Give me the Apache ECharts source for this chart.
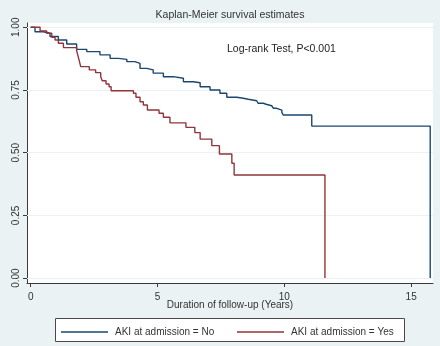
<!DOCTYPE html>
<html><head><meta charset="utf-8">
<script src="https://cdn.jsdelivr.net/npm/echarts@6/dist/echarts.min.js"></script>
<style>html,body{margin:0;padding:0;background:#eaf2f3}#c{width:440px;height:346px}</style>
</head><body><div id="c"></div>
<script>
// Kaplan-Meier step data (time in years, survival after the step)
const timeNo = [0, 0.17, 0.50, 0.76, 1.09, 1.42, 1.81, 2.21, 2.73, 3.13, 3.45, 3.79, 4.11, 4.31, 4.57, 4.83, 5.23, 5.62, 6.02, 6.41, 6.68, 7.07, 7.46, 7.73, 8.12, 8.38, 8.58, 8.91, 8.97, 9.17, 9.28, 9.50, 9.57, 9.70, 9.90, 9.96, 11.08, 15.75];
const survNo = [1.0, 0.982, 0.976, 0.963, 0.949, 0.933, 0.912, 0.903, 0.890, 0.876, 0.872, 0.863, 0.856, 0.836, 0.830, 0.817, 0.803, 0.797, 0.783, 0.779, 0.763, 0.750, 0.737, 0.721, 0.717, 0.713, 0.707, 0.703, 0.697, 0.693, 0.687, 0.683, 0.677, 0.670, 0.661, 0.650, 0.606, 0];
const timeYes = [0, 0.37, 0.63, 0.83, 0.96, 1.09, 1.29, 1.81, 1.88, 1.93, 1.97, 2.31, 2.56, 2.76, 2.82, 2.97, 3.09, 3.17, 4.05, 4.15, 4.31, 4.44, 4.60, 5.06, 5.23, 5.49, 6.12, 6.47, 6.68, 7.14, 7.44, 7.93, 8.02, 11.6];
const survYes = [1.0, 0.985, 0.976, 0.960, 0.949, 0.936, 0.919, 0.907, 0.88, 0.86, 0.843, 0.830, 0.819, 0.803, 0.787, 0.774, 0.763, 0.747, 0.737, 0.721, 0.703, 0.690, 0.670, 0.657, 0.641, 0.619, 0.601, 0.580, 0.554, 0.528, 0.495, 0.458, 0.411, 0];
const xTicks = [0, 5, 10, 15];
const yTicks = [0, 0.25, 0.5, 0.75, 1];
const seriesNames = ['AKI at admission = No', 'AKI at admission = Yes'];
const titleText = 'Kaplan-Meier survival estimates';
const noteText = 'Log-rank Test, P<0.001';
const xName = 'Duration of follow-up (Years)';

const FONT = '"Liberation Sans", Arial, sans-serif';
const chart = echarts.init(document.getElementById('c'), null, {renderer: 'canvas'});
const zip = (a, b) => a.map((v, i) => [v, b[i]]);
const axisCol = '#3a3a3a';
const textCol = '#333';
const BLUE = '#1a476f', RED = '#90353b';

const legendCommon = {top: 327, itemWidth: 47, itemHeight: 1.4, icon: 'rect', padding: 0, itemGap: 0, z: 10,
  textStyle: {fontSize: 10, color: textCol, fontFamily: FONT, padding: [0, 0, 0, 2]}};

chart.setOption({
  backgroundColor: '#eaf2f3',
  animation: false,
  grid: {left: 27, right: 7, top: 23, bottom: 63, show: true, backgroundColor: '#ffffff', borderWidth: 0},
  xAxis: {
    type: 'value', min: -0.146, max: 15.86,
    axisLine: {onZero: false, lineStyle: {color: axisCol, width: 1}},
    axisTick: {customValues: xTicks, length: 4, lineStyle: {color: axisCol}},
    axisLabel: {customValues: xTicks, margin: 9, fontSize: 10, color: textCol, fontFamily: FONT},
    splitLine: {show: false}
  },
  yAxis: {
    type: 'value', min: -0.0195, max: 1.017,
    axisLine: {show: true, onZero: false, lineStyle: {color: axisCol, width: 1}},
    axisTick: {show: true, customValues: yTicks, length: 4, lineStyle: {color: axisCol}},
    axisLabel: {customValues: yTicks, rotate: 90, margin: 6, fontSize: 10, color: textCol, fontFamily: FONT,
      formatter: v => v.toFixed(2)},
    splitLine: {show: false}
  },
  legend: [
    Object.assign({}, legendCommon, {data: [{name: seriesNames[0], itemStyle: {color: BLUE}}], left: 61}),
    Object.assign({}, legendCommon, {data: [{name: seriesNames[1], itemStyle: {color: RED}}], left: 237})
  ],
  graphic: [
    {type: 'rect', z: 1, shape: {x: 55.5, y: 318.5, width: 349, height: 23},
      style: {fill: '#ffffff', stroke: '#4a4a4a', lineWidth: 1}},
    {type: 'text', z: 5, style: {text: titleText, x: 230, y: 15, font: '10.5px ' + FONT, fill: textCol,
      align: 'center', verticalAlign: 'middle', textAlign: 'center', textVerticalAlign: 'middle'}},
    {type: 'text', z: 5, style: {text: noteText, x: 227, y: 49, font: '10.5px ' + FONT, fill: '#222',
      align: 'left', verticalAlign: 'middle', textAlign: 'left', textVerticalAlign: 'middle'}},
    {type: 'text', z: 5, style: {text: xName, x: 230, y: 305, font: '10px ' + FONT, fill: textCol,
      align: 'center', verticalAlign: 'middle', textAlign: 'center', textVerticalAlign: 'middle'}}
  ],
  series: [
    {name: 'grid', type: 'line', data: [], silent: true, z: 1,
      markLine: {silent: true, symbol: 'none', label: {show: false}, z: 1,
        lineStyle: {color: '#eaf2f3', type: 'solid', width: 1},
        data: yTicks.map(v => ({yAxis: v}))}},
    {name: seriesNames[0], type: 'line', step: 'end', symbol: 'none', showSymbol: false, z: 3, data: zip(timeNo, survNo),
      lineStyle: {color: BLUE, width: 1.4}, itemStyle: {color: BLUE}},
    {name: seriesNames[1], type: 'line', step: 'end', symbol: 'none', showSymbol: false, z: 4, data: zip(timeYes, survYes),
      lineStyle: {color: RED, width: 1.4}, itemStyle: {color: RED}}
  ]
});
</script></body></html>
